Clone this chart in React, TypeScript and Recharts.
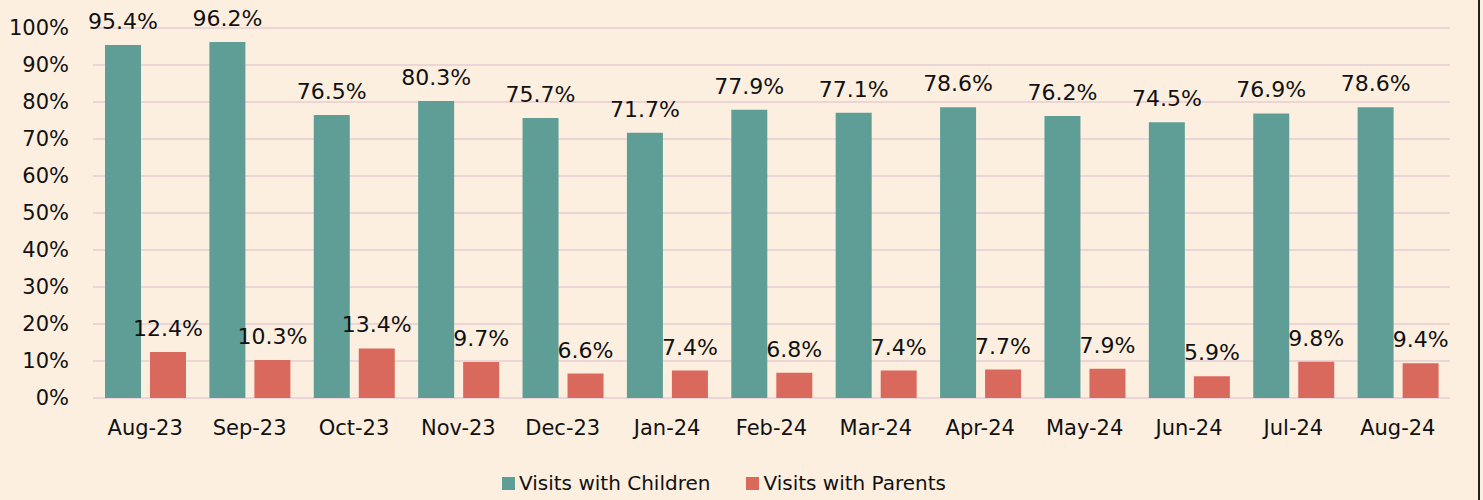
import { BarChart, Bar, XAxis, YAxis, CartesianGrid, LabelList } from "recharts"

const months = ["Aug-23", "Sep-23", "Oct-23", "Nov-23", "Dec-23", "Jan-24", "Feb-24", "Mar-24", "Apr-24", "May-24", "Jun-24", "Jul-24", "Aug-24"]
const children = [95.4, 96.2, 76.5, 80.3, 75.7, 71.7, 77.9, 77.1, 78.6, 76.2, 74.5, 76.9, 78.6]
const parents = [12.4, 10.3, 13.4, 9.7, 6.6, 7.4, 6.8, 7.4, 7.7, 7.9, 5.9, 9.8, 9.4]
const yTicks = [0, 10, 20, 30, 40, 50, 60, 70, 80, 90, 100]

const TEAL = "#5f9e97"
const RED = "#d9695d"
const FONT = "'DejaVu Sans', Verdana, sans-serif"

const data = months.map((month, i) => ({ month, children: children[i], parents: parents[i] }))

function LegendRow() {
    const items = [
        { label: "Visits with Children", color: TEAL },
        { label: "Visits with Parents", color: RED },
    ]
    return (
        <div style={{ position: "absolute", left: 502, top: 470, display: "flex", gap: 36, fontFamily: FONT, fontSize: 20, lineHeight: "26px", color: "#111" }}>
            {items.map((it) => (
                <div key={it.label} style={{ display: "flex", alignItems: "center", gap: 4 }}>
                    <span style={{ width: 13, height: 13, background: it.color, display: "inline-block" }} />
                    <span>{it.label}</span>
                </div>
            ))}
        </div>
    )
}

export default function App() {
    const fmt = (v: any) => `${v}%`
    return (
        <div style={{ position: "relative", width: 1483, height: 500, background: "#fcefdf", overflow: "hidden" }}>
            <style>{`body{margin:0}`}</style>
            <BarChart
                width={1483}
                height={500}
                data={data}
                margin={{ top: 28, right: 33, left: 0, bottom: 42 }}
                barGap={9}
                barSize={36}
            >
                <CartesianGrid vertical={false} stroke="#ebd5d6" strokeWidth={2} />
                <XAxis
                    dataKey="month"
                    axisLine={false}
                    tickLine={false}
                    tickSize={0}
                    tickMargin={22}
                    height={60}
                    interval={0}
                    tick={{ fill: "#111", fontSize: 21, fontFamily: FONT }}
                />
                <YAxis
                    domain={[0, 100]}
                    ticks={yTicks}
                    tickFormatter={fmt}
                    axisLine={false}
                    tickLine={false}
                    tickSize={0}
                    tickMargin={24}
                    width={93}
                    tick={{ fill: "#111", fontSize: 21, fontFamily: FONT }}
                />
                <Bar dataKey="children" name="Visits with Children" fill={TEAL} isAnimationActive={false}>
                    <LabelList dataKey="children" position="top" offset={16} formatter={fmt} style={{ fill: "#111", fontSize: 22, fontFamily: FONT }} />
                </Bar>
                <Bar dataKey="parents" name="Visits with Parents" fill={RED} isAnimationActive={false}>
                    <LabelList dataKey="parents" position="top" offset={16} formatter={fmt} style={{ fill: "#111", fontSize: 22, fontFamily: FONT }} />
                </Bar>
            </BarChart>
            <LegendRow />
            <div style={{ position: "absolute", left: 1478, top: 0, width: 2, height: 500, background: "#222" }} />
        </div>
    )
}
